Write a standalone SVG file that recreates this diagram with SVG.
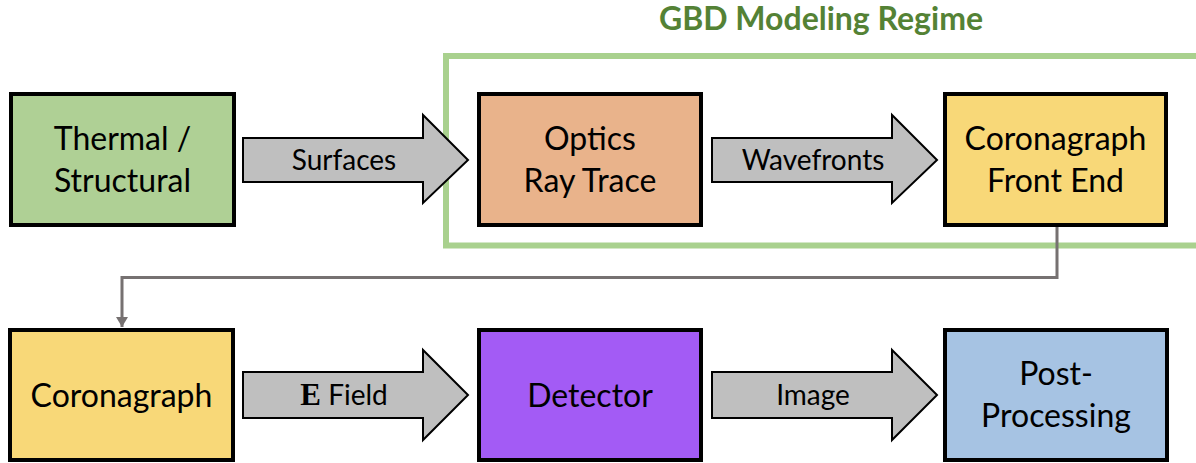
<svg xmlns="http://www.w3.org/2000/svg" width="1196" height="463" viewBox="0 0 1196 463">
  <defs>
    <style>
      .box { stroke: #000; stroke-width: 4; }
      .blk { fill: #BFBFBF; stroke: #000; stroke-width: 2; stroke-linejoin: miter; }
      .t { font-family: Lato, "Open Sans", sans-serif; font-size: 32px; fill: #000; text-anchor: middle; }
      .l { font-family: Lato, "Open Sans", sans-serif; font-size: 28px; fill: #000; text-anchor: middle; }
      .title { font-family: Lato, "Open Sans", sans-serif; font-size: 32px; font-weight: bold; fill: #548235; text-anchor: middle; }
      .conn { fill: none; stroke: #767171; stroke-width: 3; }
    </style>
    <marker id="ah" markerWidth="10" markerHeight="12" refX="10" refY="6" orient="auto" markerUnits="userSpaceOnUse">
      <path d="M0,0 L10,6 L0,12 Z" fill="#767171"/>
    </marker>
  </defs>
  <rect width="1196" height="463" fill="#fff"/>

  <g id="regime">
    <rect x="446" y="56" width="800" height="189.5" fill="none" stroke="#A9D18E" stroke-width="6"/>
    <text class="title" x="821" y="30">GBD Modeling Regime</text>
  </g>

  <g id="connectors">
    <path class="blk" d="M243,138 L423,138 L423,115 L468,160 L423,203 L423,182 L243,182 Z"/>
    <text class="l" x="344" y="170">Surfaces</text>
    <path class="blk" d="M712,138 L892,138 L892,115 L937,160 L892,203 L892,182 L712,182 Z"/>
    <text class="l" x="813" y="170">Wavefronts</text>
    <path class="blk" d="M243,372 L423,372 L423,350 L468,395 L423,440 L423,418 L243,418 Z"/>
    <text class="l" x="344" y="405"><tspan font-family="'Liberation Serif', serif" font-weight="bold" font-size="31px">E</tspan> Field</text>
    <path class="blk" d="M712,372 L892,372 L892,350 L937,395 L892,440 L892,418 L712,418 Z"/>
    <text class="l" x="813" y="405">Image</text>
    <path class="conn" d="M1057,227 L1057,277.5 L122,277.5 L122,327" marker-end="url(#ah)"/>
  </g>

  <g id="thermal">
    <rect class="box" x="11" y="94" width="223" height="131" fill="#AFD095"/>
    <text class="t" x="122.5" y="150">Thermal /</text>
    <text class="t" x="122.5" y="192">Structural</text>
  </g>
  <g id="optics">
    <rect class="box" x="479" y="94" width="222" height="131" fill="#E9B38B"/>
    <text class="t" x="590" y="150">Optics</text>
    <text class="t" x="590" y="192">Ray Trace</text>
  </g>
  <g id="frontend">
    <rect class="box" x="945" y="94" width="221" height="131" fill="#F8D878"/>
    <text class="t" x="1055.5" y="150">Coronagraph</text>
    <text class="t" x="1055.5" y="192">Front End</text>
  </g>
  <g id="coronagraph">
    <rect class="box" x="10" y="330" width="223" height="130" fill="#F8D878"/>
    <text class="t" x="121.5" y="407">Coronagraph</text>
  </g>
  <g id="detector">
    <rect class="box" x="479" y="330" width="222" height="130" fill="#A35BF5"/>
    <text class="t" x="590" y="407">Detector</text>
  </g>
  <g id="postprocessing">
    <rect class="box" x="945" y="330" width="222" height="130" fill="#A6C3E3"/>
    <text class="t" x="1056" y="385">Post-</text>
    <text class="t" x="1056" y="427">Processing</text>
  </g>
</svg>
